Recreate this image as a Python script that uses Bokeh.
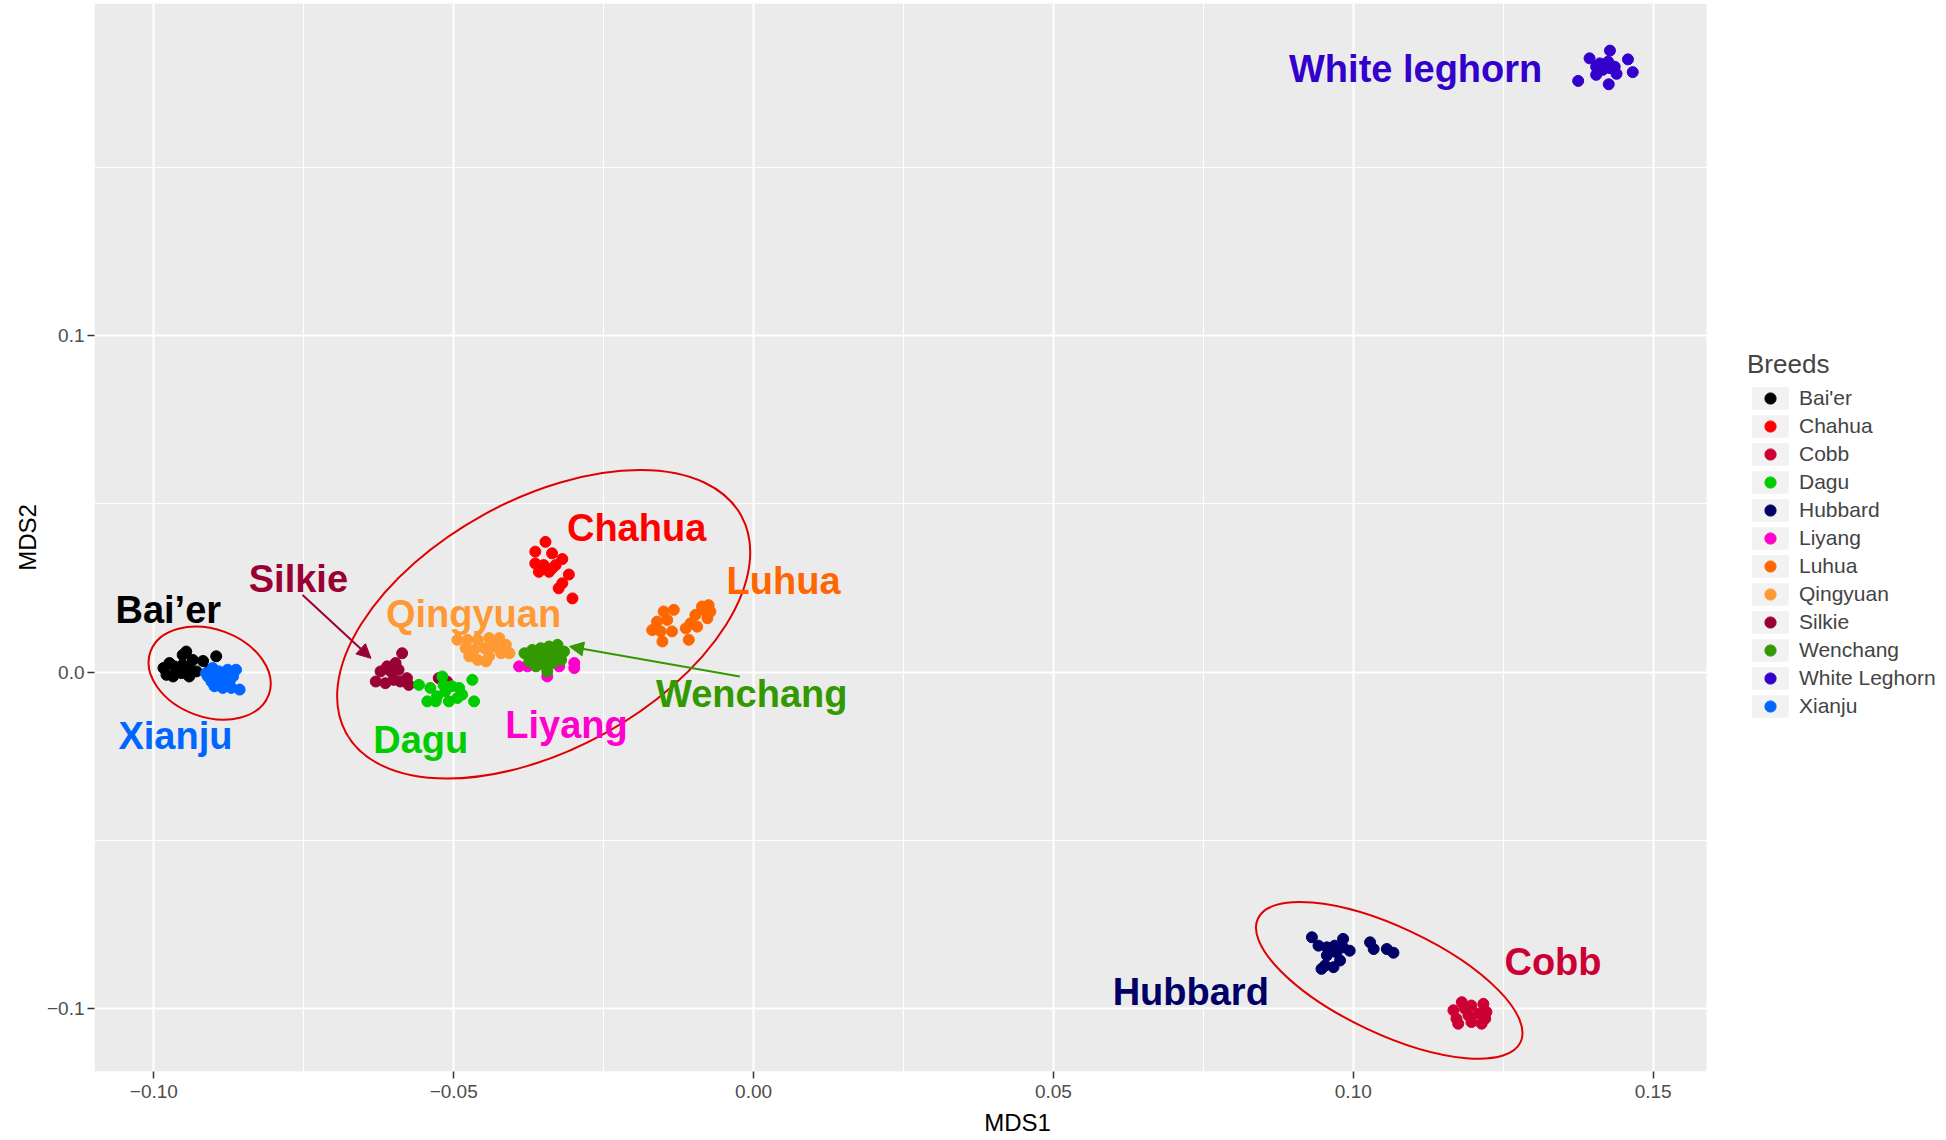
from bokeh.plotting import figure
from bokeh.models import (FixedTicker, CustomJSTickFormatter, Legend, LegendItem,
                          Arrow, NormalHead, Range1d, ColumnDataSource, BoxAnnotation)
from bokeh.embed import file_html
from bokeh.resources import INLINE
from bokeh.core.properties import value

# ---------------- data ----------------
baier_x = [-0.0946, -0.0952, -0.0935, -0.0918, -0.0896, -0.0974, -0.0984, -0.0966,
           -0.0952, -0.0941, -0.0979, -0.0968, -0.0954, -0.0941, -0.0929, -0.0907]
baier_y = [0.0061, 0.0051, 0.0036, 0.0033, 0.0047, 0.0027, 0.0012, 0.0017,
           0.0022, 0.0012, -0.0008, -0.0013, -0.0003, -0.0013, 0.0002, 0.0007]

xianju_x = [-0.0910, -0.0902, -0.0891, -0.0877, -0.0863, -0.0913, -0.0896, -0.0882,
            -0.0868, -0.0899, -0.0885, -0.0871, -0.0857, -0.0888, -0.0874, -0.0904]
xianju_y = [-0.0013, 0.0012, 0.0002, 0.0007, 0.0007, -0.0003, -0.0018, -0.0023,
            -0.0013, -0.0042, -0.0047, -0.0047, -0.0052, -0.0028, -0.0033, -0.0028]

silkie_x = [-0.0586, -0.0597, -0.0611, -0.0622, -0.0605, -0.0592, -0.0630, -0.0614,
            -0.0600, -0.0589, -0.0575, -0.0578, -0.0525, -0.0511]
silkie_y = [0.0056, 0.0027, 0.0017, 0.0002, 0.0002, 0.0007, -0.0028, -0.0033,
            -0.0023, -0.0028, -0.0038, -0.0018, -0.0018, -0.0028]

dagu_x = [-0.0558, -0.0539, -0.0519, -0.0544, -0.0528, -0.0514, -0.0503, -0.0491,
          -0.0486, -0.0508, -0.0494, -0.0469, -0.0466, -0.0530, -0.0517]
dagu_y = [-0.0038, -0.0047, -0.0013, -0.0087, -0.0072, -0.0057, -0.0042, -0.0047,
          -0.0067, -0.0087, -0.0077, -0.0023, -0.0087, -0.0087, -0.0038]

qingyuan_x = [-0.0494, -0.0477, -0.0460, -0.0441, -0.0424, -0.0413, -0.0407, -0.0480,
              -0.0466, -0.0449, -0.0432, -0.0474, -0.0460, -0.0441, -0.0421, -0.0446]
qingyuan_y = [0.0096, 0.0096, 0.0096, 0.0101, 0.0101, 0.0081, 0.0056, 0.0071,
              0.0066, 0.0071, 0.0076, 0.0047, 0.0036, 0.0047, 0.0056, 0.0032]

liyang_x = [-0.0391, -0.0369, -0.0344, -0.0324, -0.0299, -0.0299, -0.0341, -0.0377, -0.0330]
liyang_y = [0.0017, 0.0047, -0.0013, 0.0017, 0.0027, 0.0012, 0.0066, 0.0017, 0.0032]

wenchang_x = [-0.0382, -0.0369, -0.0355, -0.0341, -0.0327, -0.0316, -0.0374, -0.0360,
              -0.0346, -0.0332, -0.0321, -0.0363, -0.0349, -0.0335, -0.0344, -0.0330]
wenchang_y = [0.0056, 0.0066, 0.0071, 0.0076, 0.0081, 0.0061, 0.0032, 0.0041,
              0.0047, 0.0051, 0.0036, 0.0017, 0.0022, 0.0027, 0.0002, 0.0061]

chahua_x = [-0.0347, -0.0364, -0.0336, -0.0319, -0.0364, -0.0350, -0.0336, -0.0358,
            -0.0341, -0.0308, -0.0319, -0.0325, -0.0302, -0.0330]
chahua_y = [0.0387, 0.0358, 0.0353, 0.0336, 0.0323, 0.0318, 0.0308, 0.0298,
            0.0298, 0.0290, 0.0264, 0.0249, 0.0219, 0.0318]

luhua_x = [-0.0150, -0.0133, -0.0161, -0.0144, -0.0169, -0.0155, -0.0136, -0.0152, -0.0113,
           -0.0105, -0.0097, -0.0086, -0.0075, -0.0072, -0.0077, -0.0094, -0.0108, -0.0083]
luhua_y = [0.0180, 0.0185, 0.0150, 0.0155, 0.0125, 0.0121, 0.0121, 0.0091, 0.0130,
           0.0145, 0.0170, 0.0195, 0.0199, 0.0180, 0.0160, 0.0135, 0.0096, 0.0185]

hubbard_x = [0.0931, 0.0942, 0.0956, 0.0969, 0.0983, 0.0994, 0.0956, 0.0972, 0.0953,
             0.0947, 0.0967, 0.0978, 0.1028, 0.1034, 0.1056, 0.1067, 0.0983]
hubbard_y = [-0.0788, -0.0813, -0.0818, -0.0813, -0.0793, -0.0828, -0.0842, -0.0833, -0.0872,
             -0.0882, -0.0877, -0.0857, -0.0803, -0.0823, -0.0823, -0.0834, -0.0818]

cobb_x = [0.1167, 0.1181, 0.1197, 0.1217, 0.1172, 0.1192, 0.1209, 0.1222, 0.1175,
          0.1197, 0.1214, 0.1220, 0.1186]
cobb_y = [-0.1005, -0.0981, -0.0991, -0.0986, -0.1030, -0.1020, -0.1015, -0.1010, -0.1045,
          -0.1040, -0.1045, -0.1030, -0.1000]

leghorn_x = [0.1375, 0.1394, 0.1428, 0.1458, 0.1466, 0.1426, 0.1405, 0.1439, 0.1411,
             0.1425, 0.1436, 0.1416, 0.1428, 0.1405]
leghorn_y = [0.1757, 0.1824, 0.1847, 0.1821, 0.1783, 0.1747, 0.1775, 0.1778, 0.1809,
             0.1814, 0.1799, 0.1790, 0.1795, 0.1799]

# legend (alphabetical) order
breeds = ["Bai'er", "Chahua", "Cobb", "Dagu", "Hubbard", "Liyang", "Luhua",
          "Qingyuan", "Silkie", "Wenchang", "White Leghorn", "Xianju"]
breed_colors = ["#000000", "#FF0000", "#CC0033", "#00CC00", "#000066", "#FF00CC",
                "#FF6600", "#FF9933", "#990033", "#339900", "#3300CC", "#0066FF"]
breed_data = {
    "Bai'er": (baier_x, baier_y), "Chahua": (chahua_x, chahua_y), "Cobb": (cobb_x, cobb_y),
    "Dagu": (dagu_x, dagu_y), "Hubbard": (hubbard_x, hubbard_y), "Liyang": (liyang_x, liyang_y),
    "Luhua": (luhua_x, luhua_y), "Qingyuan": (qingyuan_x, qingyuan_y),
    "Silkie": (silkie_x, silkie_y), "Wenchang": (wenchang_x, wenchang_y),
    "White Leghorn": (leghorn_x, leghorn_y), "Xianju": (xianju_x, xianju_y),
}
draw_order = ["Bai'er", "Xianju", "Silkie", "Dagu", "Qingyuan", "Liyang", "Wenchang",
              "Chahua", "Luhua", "Hubbard", "Cobb", "White Leghorn"]

# annotation labels
label_text = ["White leghorn", "Bai\u2019er", "Xianju", "Silkie", "Chahua", "Luhua",
              "Qingyuan", "Wenchang", "Dagu", "Liyang", "Hubbard", "Cobb"]
label_x = [0.1104, -0.0976, -0.0964, -0.0759, -0.0195, 0.0050,
           -0.0467, -0.0003, -0.0555, -0.0312, 0.0729, 0.1333]
label_y = [0.1791, 0.0184, -0.0190, 0.0276, 0.0427, 0.0270,
           0.0172, -0.0065, -0.0201, -0.0157, -0.0951, -0.0862]
label_color = ["#3300CC", "#000000", "#0066FF", "#990033", "#FF0000", "#FF6600",
               "#FF9933", "#339900", "#00CC00", "#FF00CC", "#000066", "#CC0033"]

# grouping ellipses
ell_x = [-0.0907, -0.0350, 0.1060]
ell_y = [-0.0003, 0.0142, -0.0916]
ell_w = [0.0210, 0.0752, 0.0484]
ell_h = [0.0261, 0.0743, 0.0317]
ell_angle = [-20.0, 28.8, -25.2]

# arrows: (x_start, y_start, x_end, y_end, color)
arrows = [(-0.0752, 0.0229, -0.0638, 0.0041, "#990033"),
          (-0.0023, -0.0013, -0.0307, 0.0076, "#339900")]

x_ticks = [-0.10, -0.05, 0.0, 0.05, 0.10, 0.15]
x_minor = [-0.075, -0.025, 0.025, 0.075, 0.125]
y_ticks = [-0.1, 0.0, 0.1]
y_minor = [-0.05, 0.05, 0.15]

x_lo, x_hi = -0.1099, 0.1589     # panel x limits
y_lo, y_hi = -0.1187, 0.1987     # panel y limits

# ---------------- figure ----------------
FONT = "Liberation Sans"
PANEL_W = 1612            # grey panel width (px)
FRAME_W, FRAME_H = 1846, 1068   # frame includes white legend area to the right
x_end = x_lo + (x_hi - x_lo) * FRAME_W / PANEL_W

p = figure(frame_width=FRAME_W, frame_height=FRAME_H,
           output_backend="svg", toolbar_location=None,
           x_range=Range1d(x_lo, x_end), y_range=Range1d(y_lo, y_hi),
           x_axis_label="MDS1", y_axis_label="MDS2",
           min_border_left=94, min_border_right=0, min_border_top=3, min_border_bottom=56)
p.background_fill_color = "white"
p.border_fill_color = "white"
p.outline_line_color = None

# grey panel
p.add_layout(BoxAnnotation(left=x_lo, right=x_hi, fill_color="#EBEBEB", fill_alpha=1.0,
                           line_color=None, level="image"))

xt = FixedTicker(ticks=x_ticks, minor_ticks=x_minor)
yt = FixedTicker(ticks=y_ticks, minor_ticks=y_minor)
p.xaxis.ticker = xt
p.yaxis.ticker = yt
p.xgrid.ticker = xt
p.ygrid.ticker = yt
p.xaxis.bounds = (x_lo, x_hi)
p.grid.grid_line_color = "white"
p.grid.grid_line_width = 2
p.grid.minor_grid_line_color = "white"
p.grid.minor_grid_line_width = 1

p.xaxis.formatter = CustomJSTickFormatter(
    code="return (tick < 0 ? '\u2212' : '') + Math.abs(tick).toFixed(2);")
p.yaxis.formatter = CustomJSTickFormatter(
    code="return (tick < 0 ? '\u2212' : '') + Math.abs(tick).toFixed(1);")

for ax in (p.xaxis, p.yaxis):
    ax.axis_line_color = None
    ax.major_tick_line_color = "#333333"
    ax.major_tick_line_width = 1.5
    ax.major_tick_out = 7
    ax.major_tick_in = 0
    ax.minor_tick_line_color = None
    ax.major_label_text_color = "#4D4D4D"
    ax.major_label_text_font = FONT
    ax.major_label_text_font_size = "19px"
    ax.axis_label_text_font = FONT
    ax.axis_label_text_font_size = "24px"
    ax.axis_label_text_font_style = "normal"
    ax.axis_label_text_color = "#000000"
p.xaxis.major_label_standoff = 6
p.xaxis.axis_label_standoff = 8
p.yaxis.major_label_standoff = 3
p.yaxis.axis_label_standoff = 3

# points
renderers = {}
for b in draw_order:
    xs, ys = breed_data[b]
    c = breed_colors[breeds.index(b)]
    renderers[b] = p.scatter(xs, ys, size=11, fill_color=c, line_color=c)

# ellipses
p.ellipse(x=ell_x, y=ell_y, width=ell_w, height=ell_h, angle=ell_angle,
          angle_units="deg", fill_color=None, line_color="#E00000", line_width=2)

# arrows
for xs0, ys0, xe, ye, c in arrows:
    p.add_layout(Arrow(end=NormalHead(size=14, fill_color=c, line_color=c),
                       x_start=xs0, y_start=ys0, x_end=xe, y_end=ye,
                       line_color=c, line_width=2))

# labels
lsrc = ColumnDataSource(dict(x=label_x, y=label_y, text=label_text, color=label_color))
p.text(x="x", y="y", text="text", source=lsrc, text_color="color",
       text_font=value(FONT), text_font_style="bold", text_font_size="38px",
       text_align="center", text_baseline="middle")

# legend with grey key boxes, placed in the white area right of the panel
key_bg = p.rect(x=[float("nan")], y=[float("nan")], width=0.01, height=0.01,
                fill_color="#F2F2F2", line_color=None)
items = [LegendItem(label=b, renderers=[key_bg, renderers[b]]) for b in breeds]
legend = Legend(items=items, title="Breeds", location=(PANEL_W + 41, 351),
                margin=0, padding=10, spacing=0,
                glyph_width=46, glyph_height=28, label_standoff=6,
                label_text_font=FONT, label_text_font_size="21px",
                title_text_font=FONT, title_text_font_size="26px",
                title_text_font_style="normal", title_standoff=4,
                background_fill_alpha=0, border_line_color=None)
p.add_layout(legend)

open("out.html", "w").write(file_html(p, INLINE))
